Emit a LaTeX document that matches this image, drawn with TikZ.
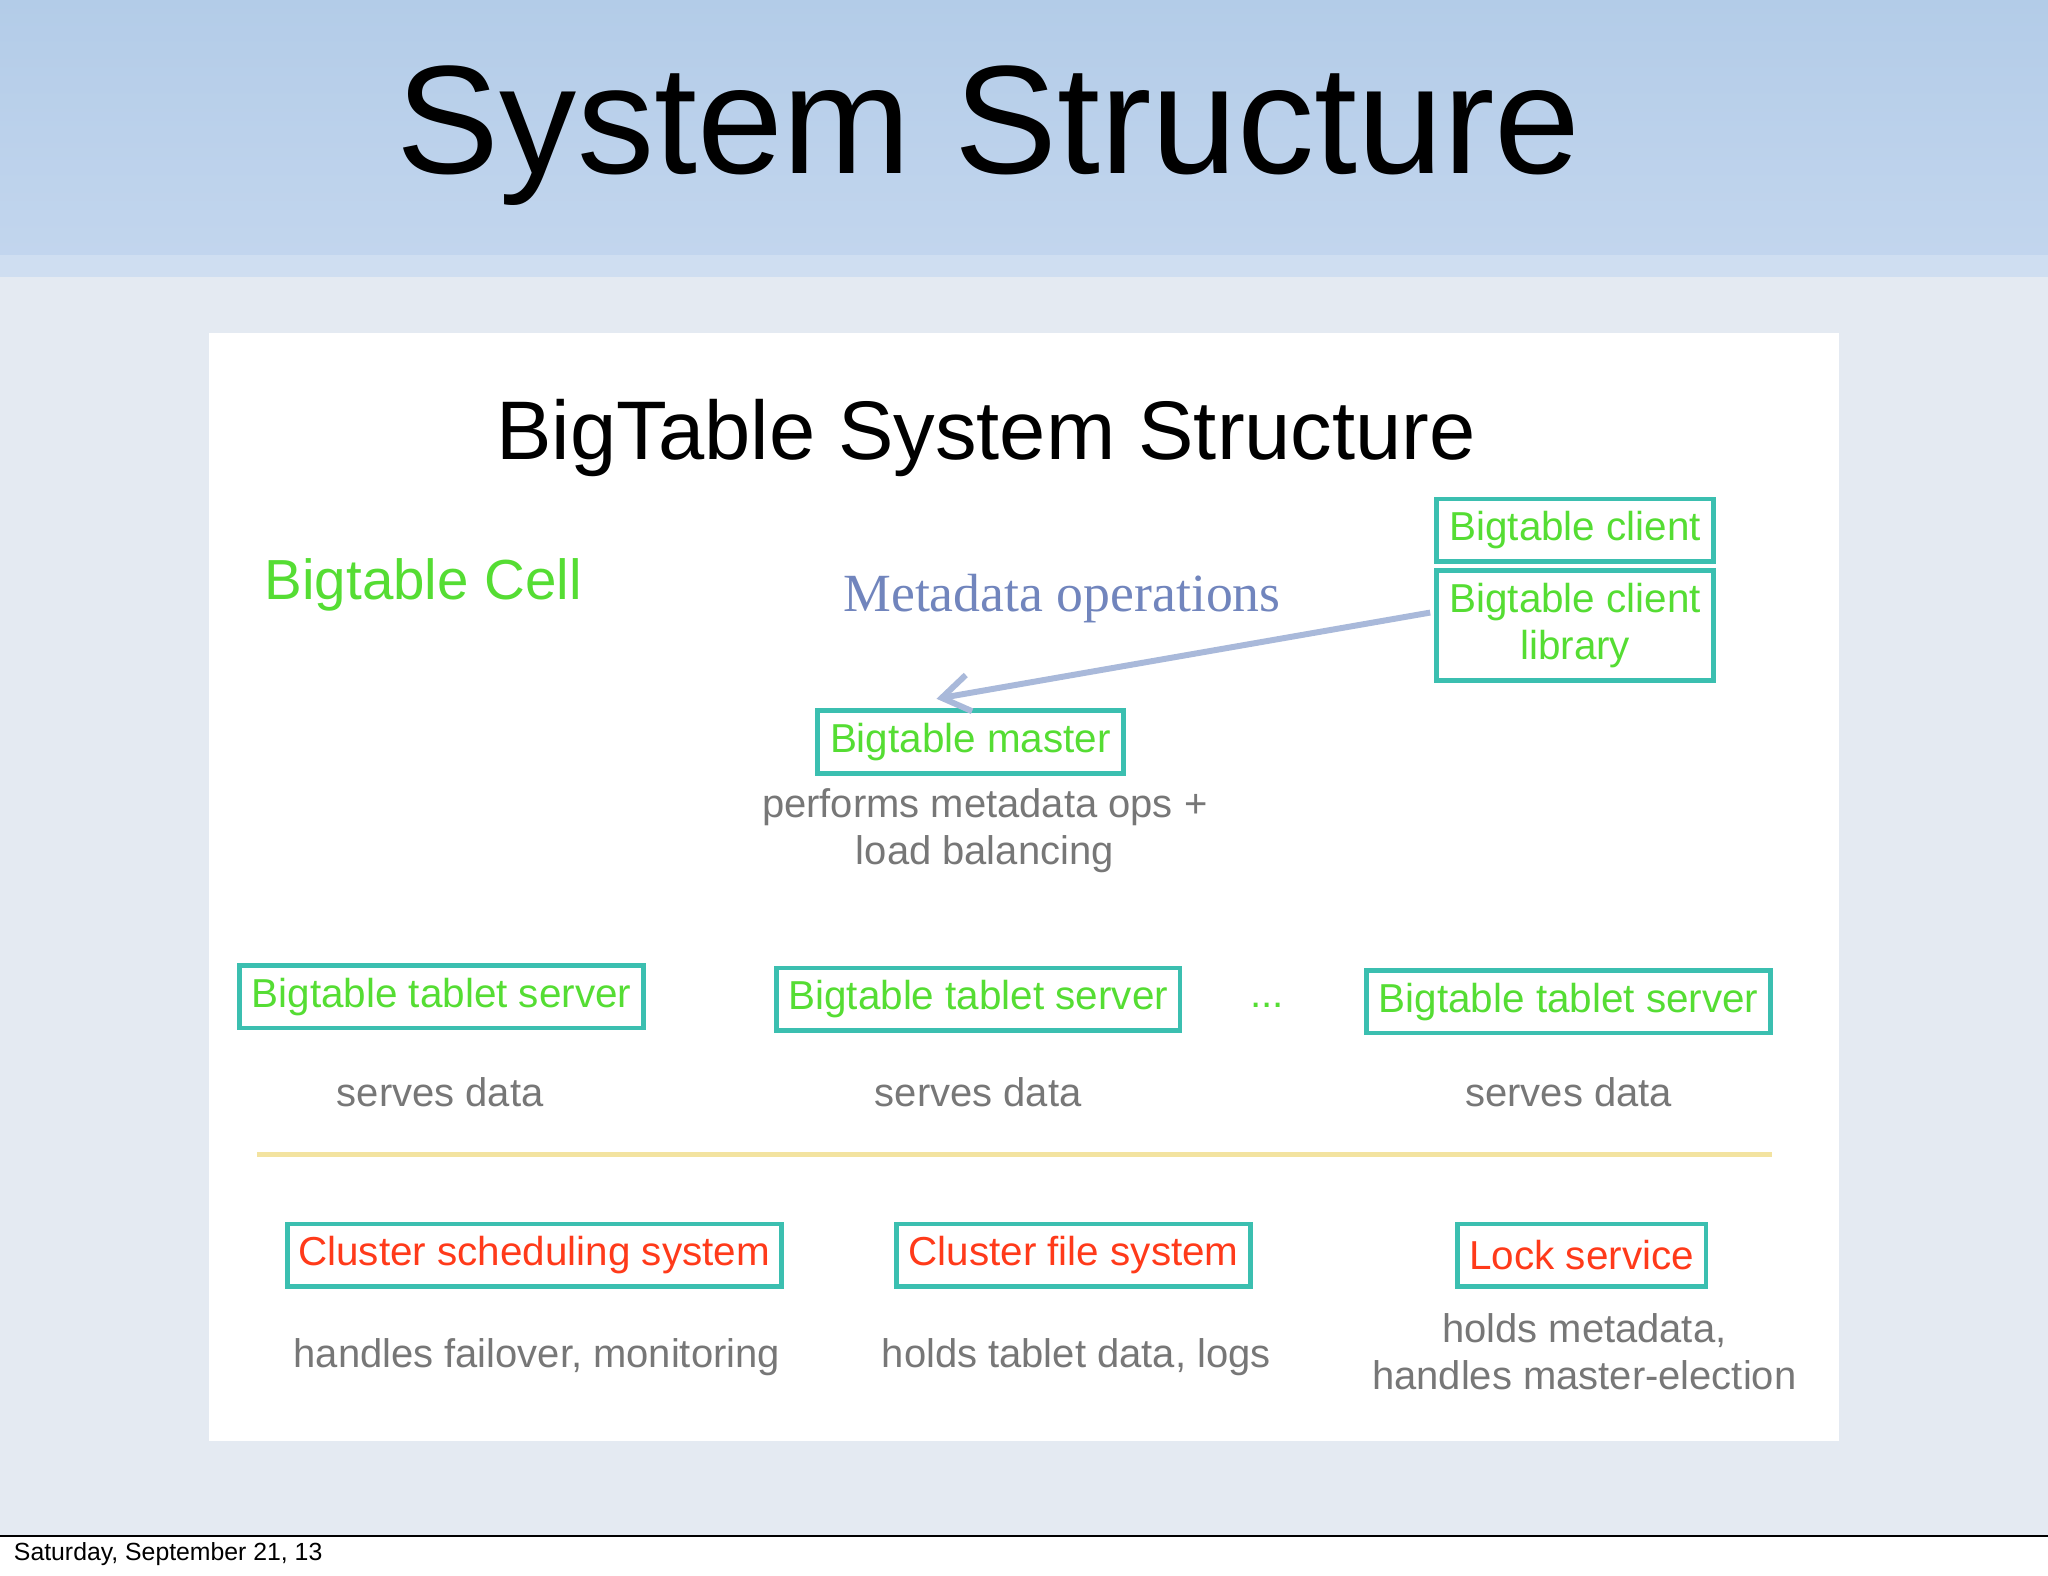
\documentclass[tikz,border=0pt]{standalone}
\usepackage{fontspec}
\setmainfont{Liberation Sans}
\newfontfamily\serifF{Liberation Serif}
\usetikzlibrary{arrows.meta}
\definecolor{bandtop}{HTML}{B3CCE8}
\definecolor{bandbot}{HTML}{C3D6EE}
\definecolor{pagebg}{HTML}{E4EAF2}
\definecolor{teal}{HTML}{3BBFB0}
\definecolor{grn}{HTML}{55DD33}
\definecolor{redt}{HTML}{FF3A1A}
\definecolor{grayt}{HTML}{777777}
\definecolor{meta}{HTML}{7185BD}
\definecolor{arr}{HTML}{A9B9DA}
\definecolor{yel}{HTML}{F3E3A0}
\tikzset{
  gbox/.style={draw=teal,line width=1pt,text=grn,font=\fontsize{8.8}{10.2}\selectfont,inner sep=0pt,align=center},
  rbox/.style={draw=teal,line width=1pt,text=redt,font=\fontsize{8.8}{10}\selectfont,inner sep=0pt,align=center},
  gtext/.style={text=grayt,font=\fontsize{8.7}{10.2}\selectfont,align=center,inner sep=0pt},
}
\begin{document}
\begin{tikzpicture}[x=0.01cm,y=-0.01cm]
\useasboundingbox (0,0) rectangle (1568,1206);
\fill[white] (0,0) rectangle (1568,1206);
\fill[pagebg] (0,205) rectangle (1568,1176);
\shade[top color=bandtop,bottom color=bandbot] (0,0) rectangle (1568,205);
\fill[bandbot!80!white] (0,195) rectangle (1568,212);
\draw[black,line width=0.6pt] (0,1176) -- (1568,1176);
\node[anchor=west,font=\fontsize{5.4}{6}\selectfont,inner sep=0pt] (foot) at (10,1190) {Saturday, September 21, 13};
\node[font=\fontsize{33.6}{36}\selectfont,inner sep=0pt] (title) at (757,104) {System Structure};
\fill[white] (160,255) rectangle (1408,1103);
\node[font=\fontsize{18.1}{20}\selectfont,inner sep=0pt] (sub) at (755,335) {BigTable System Structure};
\node[anchor=west,text=grn,font=\fontsize{12.3}{13}\selectfont,inner sep=0pt] (cell) at (202,448) {Bigtable Cell};
\node[anchor=west,text=meta,font=\serifF\fontsize{11.7}{12}\selectfont,inner sep=0pt] (metaop) at (645,458) {Metadata operations};
\node[gbox,minimum width=2.12cm,minimum height=0.48cm] (client) at (1206,406) {Bigtable client};
\node[gbox,minimum width=2.12cm,minimum height=0.84cm] (lib) at (1206,479) {Bigtable client\\library};
\node[gbox,minimum width=2.34cm,minimum height=0.48cm] (master) at (743,568) {Bigtable master};
\coordinate (arrend) at (717,535);
\coordinate (arrstart) at (1095,469);
\draw[arr,line width=1.3pt,-{Straight Barb[length=6pt,width=8pt]}] (arrstart) -- (arrend);
\node[gtext] (mtext) at (754,636) {performs metadata ops +\\load balancing};
\node[gbox,minimum width=3.09cm,minimum height=0.48cm] (ts1) at (338,763) {Bigtable tablet server};
\node[gbox,minimum width=3.09cm,minimum height=0.48cm] (ts2) at (749,765) {Bigtable tablet server};
\node[gbox,minimum width=3.09cm,minimum height=0.48cm] (ts3) at (1201,767) {Bigtable tablet server};
\node[text=grn,font=\fontsize{8.8}{10}\selectfont,inner sep=0pt] (dots) at (970,770) {...};
\node[gtext] (s1) at (337,836) {serves data};
\node[gtext] (s2) at (749,836) {serves data};
\node[gtext] (s3) at (1201,836) {serves data};
\coordinate (yl) at (197,884);
\coordinate (yr) at (1357,884);
\draw[yel,line width=1pt] (yl) -- (yr);
\node[rbox,minimum width=3.78cm,minimum height=0.48cm] (css) at (409,961) {Cluster scheduling system};
\node[rbox,minimum width=2.71cm,minimum height=0.48cm] (cfs) at (822,961) {Cluster file system};
\node[rbox,minimum width=1.90cm,minimum height=0.48cm] (lock) at (1211,961) {Lock service};
\node[gtext] (h1) at (411,1039) {handles failover, monitoring};
\node[gtext] (h2) at (824,1039) {holds tablet data, logs};
\node[gtext] (h3) at (1213,1035) {holds metadata,\\handles master-election};
\end{tikzpicture}
\end{document}
